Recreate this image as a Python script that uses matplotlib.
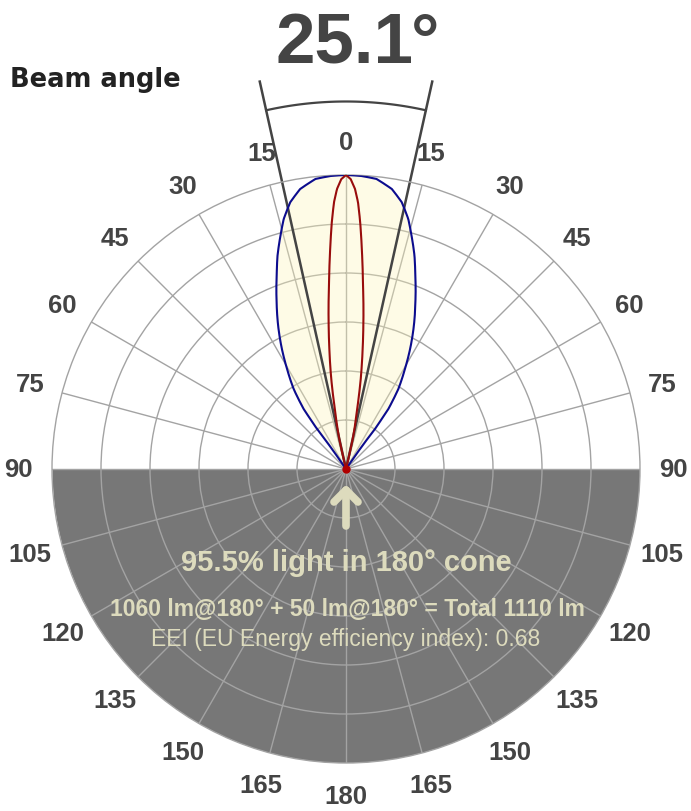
import numpy as np
import matplotlib
matplotlib.use('Agg')
import matplotlib.pyplot as plt
from matplotlib.lines import Line2D

W, H = 691, 812

# values
beam_angle = 25.1
blue_deg = [0, 3, 6, 9.3, 11.8, 14, 15.7, 17.8, 19.7, 22.6, 25.5, 28.1, 30.5, 33.2, 35.2, 35.9, 35, 34.5]
blue_r = [1.0, 0.998, 0.992, 0.965, 0.927, 0.876, 0.824, 0.762, 0.699, 0.614, 0.535, 0.463,
          0.395, 0.325, 0.25, 0.168, 0.083, 0.0]
red_deg = [0, 0.93, 1.84, 2.58, 3.3, 4.22, 5.3, 6.9, 7.9, 9.3, 10.7, 12.6, 13.5]
red_r = [1.0, 0.986, 0.953, 0.908, 0.84, 0.739, 0.626, 0.491, 0.412, 0.31, 0.196, 0.105, 0.0]
grid_deg = list(range(0, 360, 15))
ring_r = [1/6, 2/6, 3/6, 4/6, 5/6]

light_text = '95.5% light in 180° cone'
lumen_text = '1060 lm@180° + 50 lm@180° = Total 1110 lm'
eei_text = 'EEI (EU Energy efficiency index): 0.68'

plt.rcParams['font.family'] = ['Liberation Sans', 'DejaVu Sans']


def mirror(deg, r):
    d = np.asarray(deg, dtype=float)
    r = np.asarray(r, dtype=float)
    th = np.deg2rad(np.concatenate([-d[::-1], d[1:]]))
    rr = np.concatenate([r[::-1], r[1:]])
    return th, rr


def fx(px):
    return px / W


def fy(py):
    return 1 - py / H


fig = plt.figure(figsize=(W / 100, H / 100), dpi=100)
ax = fig.add_axes([fx(52), fy(764), 588 / W, 588 / H], projection='polar')
ax.set_theta_zero_location('N')
ax.set_theta_direction(-1)
ax.set_ylim(0, 1)
ax.set_xticks(np.deg2rad(grid_deg))
ax.set_xticklabels([])
ax.set_yticks(ring_r)
ax.set_yticklabels([])
ax.set_axisbelow(True)
ax.grid(color='#a3a3a3', lw=1)
ax.spines['polar'].set_color('#a3a3a3')
ax.spines['polar'].set_linewidth(1)
ax.tick_params(length=0)

# lower hemisphere
th_low = np.linspace(np.pi / 2, 3 * np.pi / 2, 200)
ax.fill_between(th_low, 0, 1, color='#777777', lw=0, zorder=0.2)

bt, br = mirror(blue_deg, blue_r)
rt, rr = mirror(red_deg, red_r)

poly = ax.fill(bt, br, color='#fdf5b8', alpha=0.35, lw=0, zorder=1)[0]
poly.get_path()._interpolation_steps = 20

# beam angle lines and arc
half = np.deg2rad(beam_angle / 2)
for s in (-1, 1):
    ax.plot([s * half, s * half], [0, 1.35], color='#444444', lw=1.8,
            clip_on=False, zorder=1.5)
arc = np.linspace(-half, half, 60)
ax.plot(arc, np.full_like(arc, 1.25), color='#444444', lw=1.6, clip_on=False, zorder=1.5)

for th, r, c in [(bt, br, '#0c0c8e'), (rt, rr, '#980c0c')]:
    ln, = ax.plot(th, r, color=c, lw=1.5, zorder=3)
    ln.get_path()._interpolation_steps = 20
ax.plot([0], [0], 'o', color='#b00000', ms=5, zorder=4)

for d in grid_deg:
    lab = min(d, 360 - d)
    ax.text(np.deg2rad(d), 1.113, str(lab), ha='center', va='center',
            fontsize=18.5, fontweight='bold', color='#444444', clip_on=False)

# headings
fig.text(fx(344), fy(63), '25.1', ha='center', va='baseline',
         fontsize=51, fontweight='bold', color='#444444')
fig.text(fx(411), fy(63), '°', ha='left', va='baseline',
         fontsize=51, fontweight='bold', color='#444444')
fig.text(fx(10), fy(87), 'Beam angle', ha='left', va='baseline',
         fontsize=18.5, fontweight='bold', color='#222222', family='DejaVu Sans')

# arrow
beige = '#dddbbd'
for x0, y0, x1, y1 in [(346, 527, 346, 492), (346, 491, 334, 503), (346, 491, 358, 503)]:
    fig.add_artist(Line2D([fx(x0), fx(x1)], [fy(y0), fy(y1)], color=beige, lw=5.5,
                          solid_capstyle='round', transform=fig.transFigure))

fig.text(fx(346), fy(571), light_text, ha='center', va='baseline',
         fontsize=21, fontweight='bold', color=beige)
fig.text(fx(347), fy(616.5), lumen_text, ha='center', va='baseline',
         fontsize=16.5, fontweight='bold', color=beige)
fig.text(fx(346), fy(646.5), eei_text, ha='center', va='baseline',
         fontsize=16.5, color=beige)

fig.savefig('out.png', dpi=100)
